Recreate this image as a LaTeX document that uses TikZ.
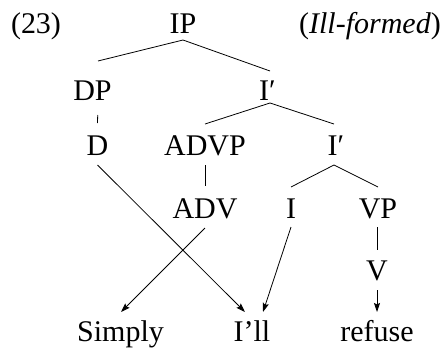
\documentclass[tikz,border=0pt]{standalone}
\usepackage{fontspec}
\setmainfont{Liberation Serif}
\usetikzlibrary{calc,arrows.meta}
\begin{document}
\begin{tikzpicture}[x=1pt,y=-1pt,
  lbl/.style={font=\fontsize{30}{36}\selectfont, inner sep=0pt, anchor=base},
  br/.style={line width=0.8pt},
  arr/.style={line width=0.8pt, -{Stealth[length=9pt,width=6pt,inset=1.5pt]}}]
\useasboundingbox (0,0) rectangle (445,348);
\node[lbl] (n23) at (36,33) {(23)};
\node[lbl] (IP) at (183,33) {IP};
\node[lbl] (ill) at (370,33) {(\textit{Ill-formed})};
\node[lbl] (DP) at (92.5,100) {DP};
\node[lbl] (Ia) at (267.5,100) {I′};
\node[lbl] (D) at (97.5,155) {D};
\node[lbl] (ADVP) at (205,155) {ADVP};
\node[lbl] (Ib) at (336,155) {I′};
\node[lbl] (ADV) at (205,218) {ADV};
\node[lbl] (I) at (291,218) {I};
\node[lbl] (VP) at (378,218) {VP};
\node[lbl] (V) at (377,280) {V};
\node[lbl] (simply) at (120.5,341) {Simply};
\node[lbl] (ill2) at (252,341) {I’ll};
\node[lbl] (refuse) at (377,341) {refuse};
% branches
\draw[br] ($(DP.base)+(5.5,-39)$) -- ($(IP.base)+(0,7)$) -- ($(Ia.base)+(2.5,-29)$);
\draw[br] ($(ADVP.base)+(0,-31)$) -- ($(Ia.base)+(2.5,3)$) -- ($(Ib.base)+(-2,-31)$);
\draw[br] ($(DP.base)+(5.2,15)$) -- ($(D.base)+(0,-32)$);
\draw[br] ($(ADVP.base)+(0,10)$) -- ($(ADV.base)+(0,-32)$);
\draw[br] ($(I.base)+(0,-31)$) -- ($(Ib.base)+(-2,10)$) -- ($(VP.base)+(0,-31)$);
\draw[br] ($(VP.base)+(-1,9)$) -- ($(V.base)+(0,-30)$);
% arrows
\draw[arr] ($(D.base)+(0,10)$) -- ($(ill2.base)+(-7,-29)$);
\draw[arr] ($(ADV.base)+(0,10)$) -- ($(simply.base)+(0.5,-29)$);
\draw[arr] ($(I.base)+(0,9)$) -- ($(ill2.base)+(11,-29)$);
\draw[arr] ($(V.base)+(0,10)$) -- ($(refuse.base)+(0,-29)$);
\end{tikzpicture}
\end{document}
